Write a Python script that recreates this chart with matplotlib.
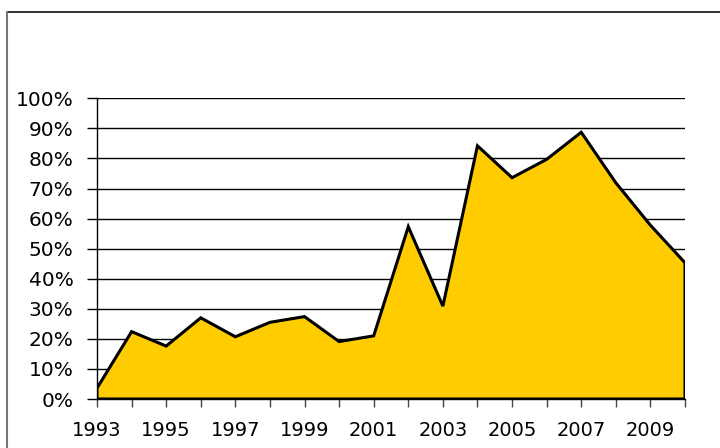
import matplotlib
matplotlib.use("Agg")
import matplotlib.pyplot as plt
from matplotlib.lines import Line2D
import numpy as np

years = [1993, 1994, 1995, 1996, 1997, 1998, 1999, 2000, 2001,
         2002, 2003, 2004, 2005, 2006, 2007, 2008, 2009, 2010]
share = [3.6, 22.4, 17.6, 27.0, 20.7, 25.5, 27.4, 19.1, 21.0,
         57.3, 30.9, 84.2, 73.6, 79.7, 88.7, 71.9, 57.8, 45.3]
y_ticks = list(range(0, 101, 10))
x_labels = [str(y) if y % 2 == 1 else "" for y in years]

fig = plt.figure(figsize=(7.2, 4.48), dpi=100)
ax = fig.add_axes([97 / 720, 1 - 399 / 448, 588 / 720, (399 - 98.3) / 448])

# filled area with a closed outline down to the baseline
xs = np.r_[years, years[-1], years[0]]
ys = np.r_[share, 0, 0]
ax.fill(xs, ys, facecolor="#FFCC00", edgecolor="black", linewidth=2.2,
        joinstyle="miter", zorder=3)

ax.set_xlim(years[0], years[-1])
ax.set_ylim(0, 100)
ax.set_yticks(y_ticks)
ax.set_yticklabels([f"{t}%" for t in y_ticks])
ax.set_xticks(years)
ax.set_xticklabels(x_labels)

for t in y_ticks[1:]:
    ax.axhline(t, color="black", linewidth=1.0, zorder=1)

for side in ("top", "right"):
    ax.spines[side].set_visible(False)
ax.spines["left"].set_linewidth(1.0)
ax.spines["bottom"].set_linewidth(1.0)

ax.tick_params(axis="y", direction="out", length=7, width=1, color="black",
               labelsize=14.5, pad=10)
ax.tick_params(axis="x", direction="out", length=6, width=1, color="#444444",
               labelsize=14, pad=10)

# frame edges around the chart area (top and left)
fx0, fy0 = 7 / 720, 1 - 12 / 448
fig.lines.append(Line2D([fx0, 1.0], [fy0, fy0], transform=fig.transFigure,
                        color="#111111", linewidth=1.2))
fig.lines.append(Line2D([fx0, fx0], [fy0, 0.0], transform=fig.transFigure,
                        color="#777777", linewidth=1.5))

fig.savefig("out.png", dpi=100)
